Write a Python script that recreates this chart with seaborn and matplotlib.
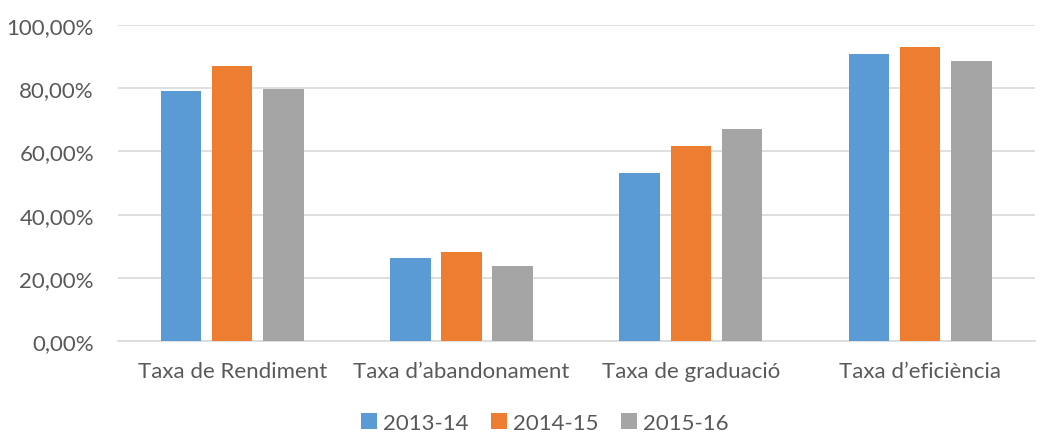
import numpy as np
import pandas as pd
import matplotlib
matplotlib.use("Agg")
import matplotlib.pyplot as plt
import seaborn as sns
from matplotlib.ticker import FuncFormatter

categories = ["Taxa de Rendiment", "Taxa d\u2019abandonament", "Taxa de graduaci\u00f3", "Taxa d\u2019efici\u00e8ncia"]
years = ["2013-14", "2014-15", "2015-16"]
v_2013 = [78.9, 26.4, 53.1, 90.8]
v_2014 = [87.1, 28.3, 61.7, 93.1]
v_2015 = [79.8, 23.9, 67.1, 88.6]
colors = ["#5B9BD5", "#ED7D31", "#A5A5A5"]

df = pd.DataFrame({
    "cat": categories * 3,
    "year": np.repeat(years, 4),
    "val": v_2013 + v_2014 + v_2015,
})

sns.set_style("white")
plt.rcParams["font.family"] = ["Lato", "DejaVu Sans"]
txt = "#595959"

fig = plt.figure(figsize=(10.4, 4.35), dpi=100)
ax = fig.add_axes([0.113, 0.213, 0.882, 0.728])
sns.barplot(data=df, x="cat", y="val", hue="year", palette=colors,
            width=0.67, gap=0.21, ax=ax, saturation=1, errorbar=None,
            edgecolor="none", zorder=3)
ax.set_ylim(0, 100)
ax.set_xlim(-0.5, 3.5)
ax.set_yticks(np.arange(0, 101, 20))
ax.yaxis.set_major_formatter(FuncFormatter(lambda v, p: f"{v:.2f}%".replace(".", ",")))
ax.grid(axis="y", color="#d9d9d9", lw=1.2, zorder=0)
for s in ["top", "right", "left"]:
    ax.spines[s].set_visible(False)
ax.spines["bottom"].set_color("#d9d9d9")
ax.spines["bottom"].set_linewidth(1.2)
ax.tick_params(axis="both", length=0, labelsize=16, colors=txt)
ax.tick_params(axis="y", pad=17)
ax.tick_params(axis="x", pad=14)
ax.set_xlabel("")
ax.set_ylabel("")
ax.legend(loc="center", bbox_to_anchor=(0.466, -0.258), ncol=3, frameon=False,
          fontsize=16, labelcolor=txt, handlelength=0.7, handleheight=0.7,
          handletextpad=0.3, columnspacing=1.0)
fig.savefig("out.png", dpi=100)
